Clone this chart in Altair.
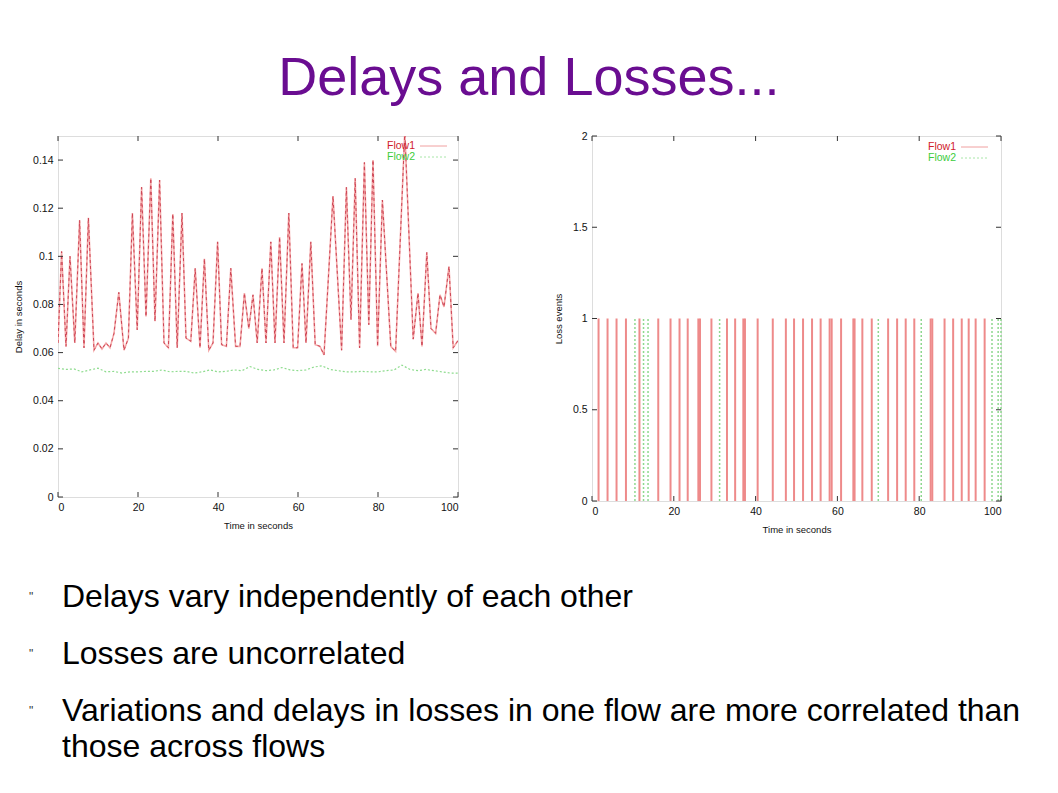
import altair as alt
import pandas as pd

FONT = "Liberation Sans"

# ---------------- data ----------------
DELAY_T1 = [0, 0.9, 2, 3, 4.2, 5.4, 6.5, 7.6, 9, 10, 11, 12, 13, 14, 15.2, 16.5, 17.6, 18.6, 19.8, 20.9,
            22, 23.2, 24.25, 25.4, 26.5, 27.6, 28.7, 29.8, 31, 32, 33.2, 34.3, 35.5, 36.6, 37.7, 38.75, 39.9,
            40.9, 42.1, 43.2, 44.4, 45.5, 46.6, 47.7, 48.75, 49.8, 51, 52, 53.2, 54.25, 55.4, 56.5, 57.7,
            58.8, 59.9, 61, 62, 63.2, 64.3, 65.5, 66.5, 68.75, 70.9, 72.1, 73.25, 74.3, 75.4, 76.6, 77.7,
            78.75, 79.9, 81.1, 83.2, 84.4, 86.7, 88.8, 90, 91, 92.2, 93.25, 94.4, 95.5, 96.5, 97.75, 98.8, 100]
DELAY_FLOW1 = [0.064, 0.102, 0.0626, 0.1, 0.064, 0.115, 0.062, 0.116, 0.061, 0.064,
               0.0615, 0.064, 0.062, 0.068, 0.085, 0.061, 0.066, 0.118, 0.0695, 0.1287,
               0.075, 0.1324, 0.073, 0.1317, 0.064, 0.062, 0.1176, 0.062, 0.118, 0.066,
               0.0647, 0.095, 0.062, 0.099, 0.061, 0.064, 0.106, 0.0633, 0.0626, 0.095,
               0.0626, 0.0626, 0.0847, 0.070, 0.084, 0.064, 0.095, 0.064, 0.106, 0.064,
               0.108, 0.064, 0.118, 0.062, 0.062, 0.097, 0.064, 0.106, 0.0633, 0.0626,
               0.059, 0.125, 0.061, 0.1287, 0.0737, 0.1324, 0.062, 0.139, 0.0716, 0.14,
               0.0626, 0.1234, 0.0626, 0.0605, 0.152, 0.0656, 0.0847, 0.0626, 0.1016, 0.070,
               0.068, 0.084, 0.079, 0.0958, 0.062, 0.065]

DELAY_T2 = list(range(0, 101, 2))
DELAY_FLOW2 = [0.0535, 0.053, 0.0532, 0.052, 0.0528, 0.0535, 0.052, 0.0522, 0.0515, 0.052,
               0.052, 0.0522, 0.0522, 0.0528, 0.052, 0.0522, 0.0522, 0.0515, 0.052, 0.0528,
               0.052, 0.0522, 0.0528, 0.0525, 0.0542, 0.053, 0.0525, 0.0528, 0.0538, 0.0528,
               0.0525, 0.0528, 0.054, 0.0545, 0.053, 0.0525, 0.052, 0.052, 0.0522, 0.052,
               0.052, 0.0525, 0.0528, 0.0548, 0.053, 0.0525, 0.053, 0.0525, 0.052, 0.0515, 0.0515]

LOSS_FLOW1 = [1.6, 3.8, 6.0, 8.3, 11.6, 16.2, 19.2, 21.4, 23.4, 26.0, 26.4, 29.2, 33.0, 35.0, 37.0, 37.4,
              40.5, 44.2, 47.4, 49.4, 51.6, 53.8, 55.9, 58.1, 58.6, 60.9, 63.9, 64.2, 66.1, 68.4, 72.4,
              74.6, 76.7, 78.8, 82.8, 83.2, 86.2, 88.3, 90.4, 92.1, 93.8, 96.0]
LOSS_FLOW2 = [10.5, 12.6, 13.7, 31.2, 70.0, 80.5, 97.8, 99.3, 100]
LOSS_EVENT = 1

X_TICKS = [0, 20, 40, 60, 80, 100]
Y_TICKS_DELAY = [0, 0.02, 0.04, 0.06, 0.08, 0.1, 0.12, 0.14]
Y_TICKS_LOSS = [0, 0.5, 1, 1.5, 2]

TITLE = "Delays and Losses..."
BULLETS = ["Delays vary independently of each other",
           "Losses are uncorrelated",
           "Variations and delays in losses in one flow are more correlated than\nthose across flows"]
LEGEND = ["Flow1", "Flow2"]

# ---------------- frames ----------------
d1 = pd.DataFrame({"t": DELAY_T1, "d": DELAY_FLOW1})
d2 = pd.DataFrame({"t": DELAY_T2, "d": DELAY_FLOW2})
l1 = pd.DataFrame({"t": LOSS_FLOW1, "lo": 0, "hi": LOSS_EVENT})
l2 = pd.DataFrame({"t": LOSS_FLOW2, "lo": 0, "hi": LOSS_EVENT})
xt = pd.DataFrame({"v": X_TICKS})
yt1 = pd.DataFrame({"v": Y_TICKS_DELAY})
yt2 = pd.DataFrame({"v": Y_TICKS_LOSS})
leg = pd.DataFrame({"label": LEGEND})

LBL = dict(labelFont=FONT, labelFontSize=10.5, labelColor="#111", titleFont=FONT, titleFontSize=9.5,
           titleFontWeight="normal", titleColor="#111", grid=False, domain=False, ticks=False,
           labelExpr="format(datum.value, '~g')")


def xaxis():
    return alt.Axis(title="Time in seconds", values=X_TICKS, labelPadding=5, titlePadding=8, **LBL)


def yaxis(title, vals):
    return alt.Axis(title=title, values=vals, labelPadding=5, titlePadding=9, **LBL)


def tick_layers(W, H, xs, ys, ydf):
    T = 5
    c = "#333"
    top = alt.Chart(xt).mark_rule(color=c).encode(x=alt.X("v:Q", scale=xs), y=alt.value(0), y2=alt.value(T))
    bot = alt.Chart(xt).mark_rule(color=c).encode(x=alt.X("v:Q", scale=xs), y=alt.value(H - T), y2=alt.value(H))
    lft = alt.Chart(ydf).mark_rule(color=c).encode(y=alt.Y("v:Q", scale=ys), x=alt.value(0), x2=alt.value(T))
    rgt = alt.Chart(ydf).mark_rule(color=c).encode(y=alt.Y("v:Q", scale=ys), x=alt.value(W - T), x2=alt.value(W))
    return [top, bot, lft, rgt]


def legend_layers(xr, y0, y1):
    a = alt.Chart(leg.iloc[[0]]).mark_text(align="right", baseline="middle", font=FONT, fontSize=10.5,
                                           color="#d0202a").encode(text="label:N", x=alt.value(xr), y=alt.value(y0))
    b = alt.Chart(leg.iloc[[1]]).mark_text(align="right", baseline="middle", font=FONT, fontSize=10.5,
                                           color="#3ccc3c").encode(text="label:N", x=alt.value(xr), y=alt.value(y1))
    la = alt.Chart(leg.iloc[[0]]).mark_rule(color="#f0a0a0", strokeWidth=1).encode(
        x=alt.value(xr + 5), x2=alt.value(xr + 32), y=alt.value(y0))
    lb = alt.Chart(leg.iloc[[1]]).mark_rule(color="#a8e6a8", strokeWidth=1, strokeDash=[2, 2]).encode(
        x=alt.value(xr + 5), x2=alt.value(xr + 32), y=alt.value(y1))
    return [a, b, la, lb]


# ---- left chart: delays ----
W1, H1 = 400, 361
xs1 = alt.Scale(domain=[0, 100], nice=False)
ys1 = alt.Scale(domain=[0, 0.15], nice=False)
base1 = alt.Chart(d1)
f1_under = base1.mark_line(color="#f5aaaa", strokeWidth=1.6, clip=True).encode(
    x=alt.X("t:Q", scale=xs1, axis=xaxis()),
    y=alt.Y("d:Q", scale=ys1, axis=yaxis("Delay in seconds", Y_TICKS_DELAY)),
)
f1_dash = base1.mark_line(color="#cc4454", strokeWidth=1, strokeDash=[3, 3], clip=True).encode(
    x="t:Q", y="d:Q")
f2_line = alt.Chart(d2).mark_line(color="#8fdc8f", strokeWidth=1.2, strokeDash=[2, 2]).encode(
    x="t:Q", y="d:Q")

left = alt.layer(f1_under, f1_dash, f2_line, *tick_layers(W1, H1, xs1, ys1, yt1),
                 *legend_layers(357, 10, 21)).properties(width=W1, height=H1)

# ---- right chart: losses ----
W2, H2 = 409, 365
xs2 = alt.Scale(domain=[0, 100], nice=False)
ys2 = alt.Scale(domain=[0, 2], nice=False)
r1 = alt.Chart(l1).mark_rule(color="#ee8a8a", strokeWidth=2).encode(
    x=alt.X("t:Q", scale=xs2, axis=xaxis()),
    y=alt.Y("lo:Q", scale=ys2, axis=yaxis("Loss events", Y_TICKS_LOSS)),
    y2="hi:Q",
)
r2 = alt.Chart(l2).mark_rule(color="#8fd88f", strokeWidth=1.5, strokeDash=[2, 2]).encode(
    x="t:Q", y="lo:Q", y2="hi:Q")

right = alt.layer(r1, r2, *tick_layers(W2, H2, xs2, ys2, yt2),
                  *legend_layers(364, 11, 22)).properties(width=W2, height=H2)

# ---- bullets ----
bul = pd.DataFrame({"idx": [0, 1, 2], "text": BULLETS, "mark": ['"', '"', '"']})
ysb = alt.Y("idx:O", axis=None, scale=alt.Scale(type="point", padding=0.5))
btext = alt.Chart(bul).mark_text(align="left", baseline="alphabetic", font=FONT, fontSize=32,
                                 lineBreak="\n", lineHeight=36, color="#000").encode(
    x=alt.value(4), y=ysb, text="text:N")
bmark = alt.Chart(bul).mark_text(align="center", baseline="alphabetic", font=FONT, fontSize=12,
                                 color="#333", dy=-6).encode(
    x=alt.value(-27), y=ysb, text="mark:N")
bullets = alt.layer(btext, bmark).properties(
    width=940, height=171, view=alt.ViewBackground(stroke="transparent"))

charts = alt.hconcat(left, right, spacing=91)
chart = alt.vconcat(charts, bullets, spacing=42).properties(
    title=alt.TitleParams(TITLE, font=FONT, fontSize=54, color="#6a0d91", anchor="middle",
                          fontWeight="normal", offset=25, dx=12),
    padding={"left": 5, "top": 43, "right": 5, "bottom": 5},
).configure_view(stroke="#333", strokeWidth=1.5).configure(background="white")

chart.save("out.html", embed_options={"renderer": "svg", "actions": False})
